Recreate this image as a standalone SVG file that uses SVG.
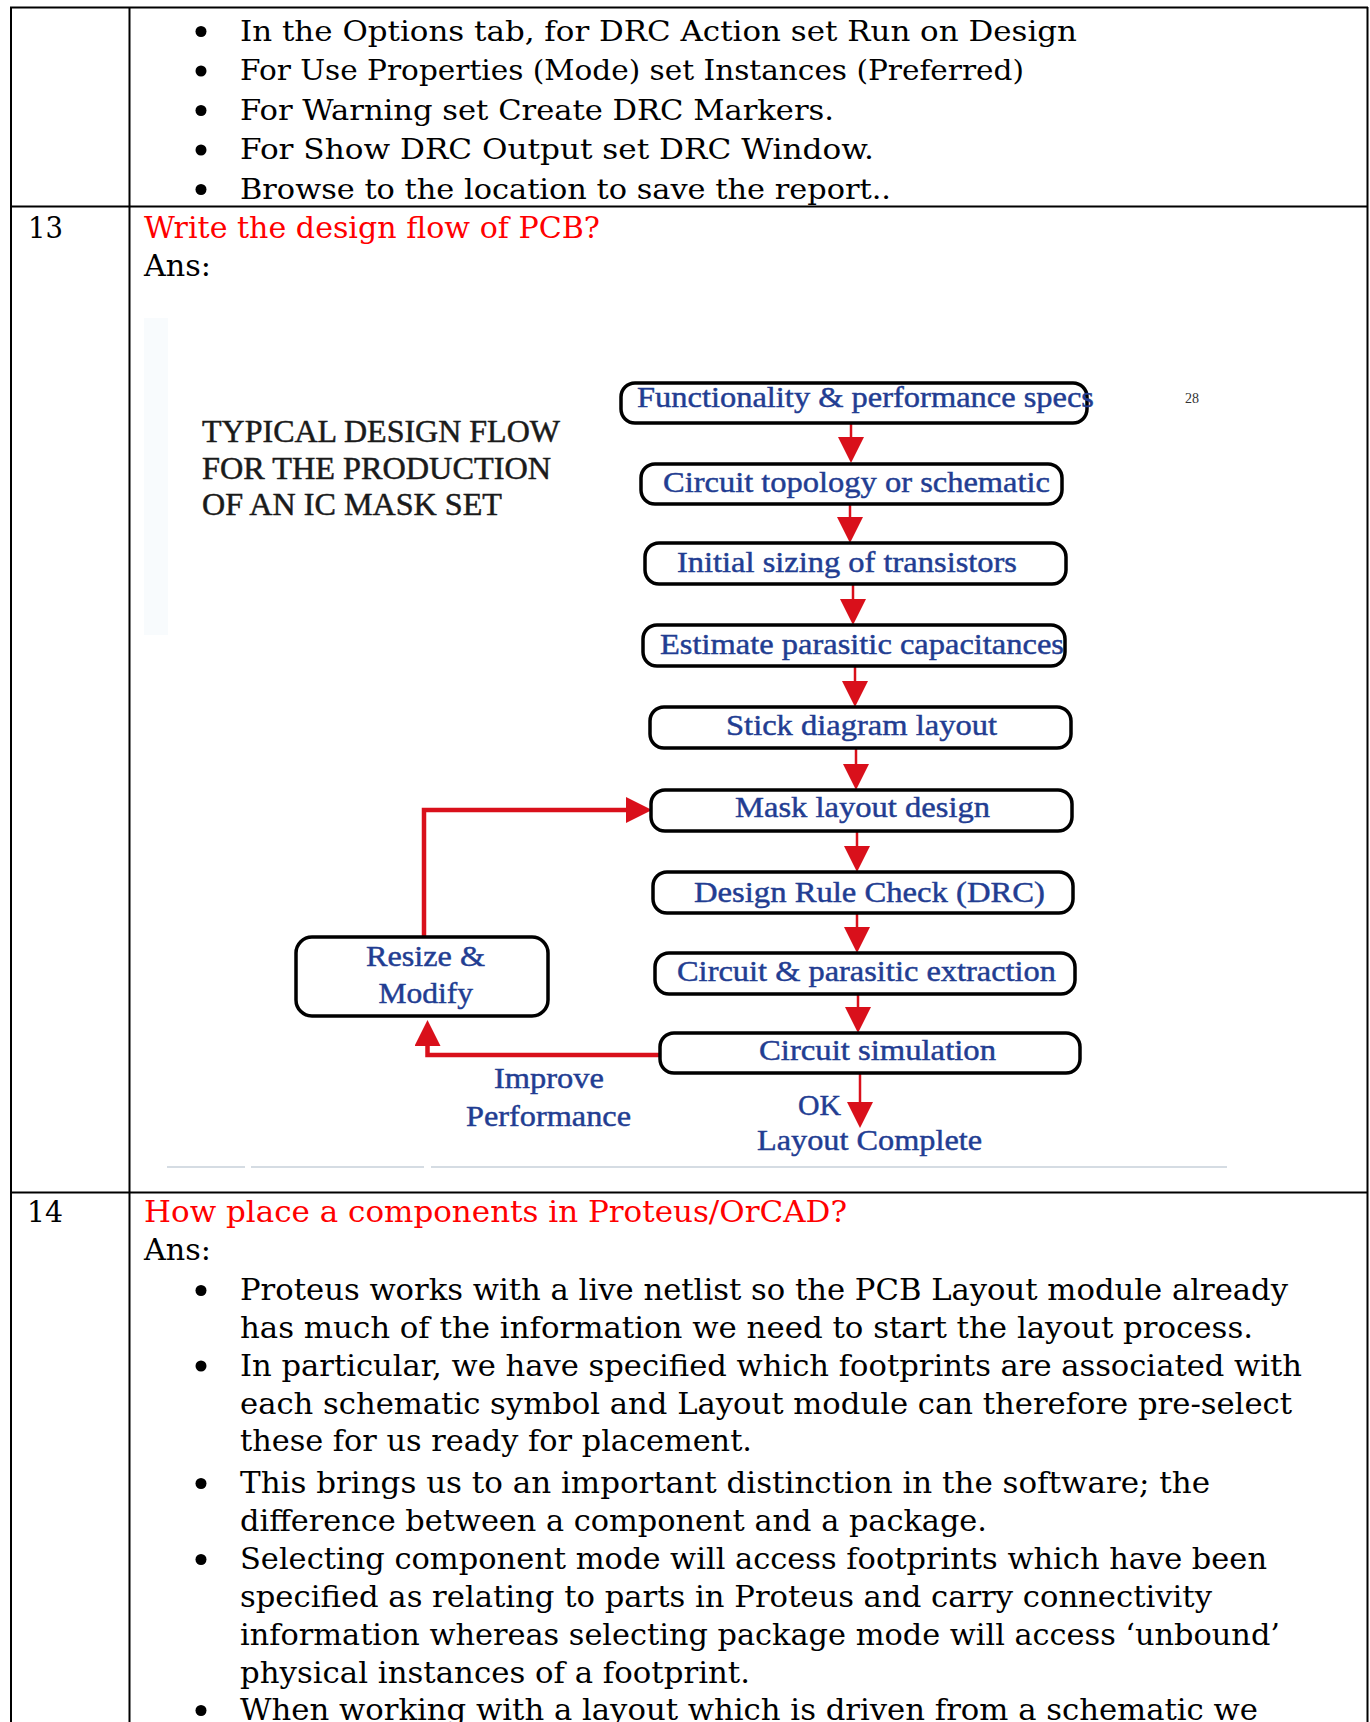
<svg xmlns="http://www.w3.org/2000/svg" width="1370" height="1722" viewBox="0 0 1370 1722">
<style>
.tb{stroke:#000;stroke-width:2;fill:none}
.body{font-family:"DejaVu Serif","Liberation Serif",serif;font-size:29px;fill:#000}
.r12{font-size:28px}
.q{fill:#ff0000}
.fc{font-family:"Liberation Serif","Times New Roman",serif;font-size:30px;fill:#223d92;stroke:#223d92;stroke-width:0.45}
.ttl{font-family:"Liberation Serif","Times New Roman",serif;font-size:32px;fill:#1a1a1a;stroke:#1a1a1a;stroke-width:0.5}
.box{fill:#fff;stroke:#000;stroke-width:3.5}
.flow{stroke:#d9101b;stroke-width:2.5;fill:none}
.fb{stroke:#d9101b;stroke-width:4.5;fill:none}
.faint{stroke:#d5dce3;stroke-width:2;fill:none}
</style>
<defs>
<marker id="ah" viewBox="0 0 26 26" refX="16" refY="13" markerWidth="26" markerHeight="26" markerUnits="userSpaceOnUse" orient="auto"><path d="M0,0 L26,13 L0,26 Z" fill="#d9101b"/></marker>
</defs>
<rect width="1370" height="1722" fill="#fff"/>

<g id="table">
<line class="tb" x1="10" y1="7.5" x2="1368" y2="7.5"/>
<line class="tb" x1="11" y1="7" x2="11" y2="1722"/>
<line class="tb" x1="1367.5" y1="7" x2="1367.5" y2="1722"/>
<line class="tb" x1="129.5" y1="7" x2="129.5" y2="1722"/>
<line class="tb" x1="11" y1="206.5" x2="1368" y2="206.5"/>
<line class="tb" x1="11" y1="1192.5" x2="1368" y2="1192.5"/>
</g>

<g id="row12" class="body r12">
<circle cx="201" cy="31.5" r="5.5"/>
<circle cx="201" cy="71" r="5.5"/>
<circle cx="201" cy="110.5" r="5.5"/>
<circle cx="201" cy="150" r="5.5"/>
<circle cx="201" cy="189.5" r="5.5"/>
<text x="240" y="40.5" textLength="837" lengthAdjust="spacingAndGlyphs">In the Options tab, for DRC Action set Run on Design</text>
<text x="240" y="80" textLength="784" lengthAdjust="spacingAndGlyphs">For Use Properties (Mode) set Instances (Preferred)</text>
<text x="240" y="119.5" textLength="594" lengthAdjust="spacingAndGlyphs">For Warning set Create DRC Markers.</text>
<text x="240" y="159" textLength="634" lengthAdjust="spacingAndGlyphs">For Show DRC Output set DRC Window.</text>
<text x="240" y="198.5" textLength="651" lengthAdjust="spacingAndGlyphs">Browse to the location to save the report..</text>
</g>

<g id="row13" class="body">
<text x="28" y="238" textLength="35" lengthAdjust="spacingAndGlyphs">13</text>
<text class="q" x="144" y="237.5" textLength="456" lengthAdjust="spacingAndGlyphs">Write the design flow of PCB?</text>
<text x="144" y="276" textLength="67" lengthAdjust="spacingAndGlyphs">Ans:</text>
</g>

<g id="figure-bg">
<rect x="144" y="318" width="24" height="317" fill="#f8fbfd"/>
<line class="faint" x1="167" y1="1167" x2="245" y2="1167"/>
<line class="faint" x1="251" y1="1167" x2="424" y2="1167"/>
<line class="faint" x1="431" y1="1167" x2="1227" y2="1167"/>
<text x="1185" y="403" font-family="Liberation Serif, serif" font-size="14" fill="#333">28</text>
</g>

<g id="title">
<text class="ttl" x="202" y="442" textLength="358" lengthAdjust="spacingAndGlyphs">TYPICAL DESIGN FLOW</text>
<text class="ttl" x="202" y="478.5" textLength="349" lengthAdjust="spacingAndGlyphs">FOR THE PRODUCTION</text>
<text class="ttl" x="202" y="515" textLength="300" lengthAdjust="spacingAndGlyphs">OF AN IC MASK SET</text>
</g>

<g id="connectors">
<line class="flow" x1="851" y1="423" x2="851" y2="453" marker-end="url(#ah)"/>
<line class="flow" x1="850" y1="504" x2="850" y2="533" marker-end="url(#ah)"/>
<line class="flow" x1="853" y1="584" x2="853" y2="615" marker-end="url(#ah)"/>
<line class="flow" x1="855" y1="666" x2="855" y2="697" marker-end="url(#ah)"/>
<line class="flow" x1="856" y1="748" x2="856" y2="780" marker-end="url(#ah)"/>
<line class="flow" x1="857" y1="831" x2="857" y2="862" marker-end="url(#ah)"/>
<line class="flow" x1="857" y1="913" x2="857" y2="943" marker-end="url(#ah)"/>
<line class="flow" x1="858" y1="994" x2="858" y2="1023" marker-end="url(#ah)"/>
<line class="flow" x1="860" y1="1073" x2="860" y2="1118" marker-end="url(#ah)"/>
<path class="fb" d="M424,937 V810 H642" marker-end="url(#ah)"/>
<path class="fb" d="M660,1055 H427.5 V1030" marker-end="url(#ah)"/>
</g>

<g id="n1"><rect class="box" x="621" y="383" width="466" height="40" rx="14"/><text class="fc" x="637" y="407" textLength="457" lengthAdjust="spacingAndGlyphs">Functionality &amp; performance specs</text></g>
<g id="n2"><rect class="box" x="641" y="464" width="421" height="40" rx="14"/><text class="fc" x="663" y="492" textLength="387" lengthAdjust="spacingAndGlyphs">Circuit topology or schematic</text></g>
<g id="n3"><rect class="box" x="645" y="543" width="421" height="41" rx="14"/><text class="fc" x="677" y="572" textLength="340" lengthAdjust="spacingAndGlyphs">Initial sizing of transistors</text></g>
<g id="n4"><rect class="box" x="643" y="625" width="422" height="41" rx="14"/><text class="fc" x="660" y="654" textLength="404" lengthAdjust="spacingAndGlyphs">Estimate parasitic capacitances</text></g>
<g id="n5"><rect class="box" x="650" y="707" width="421" height="41" rx="14"/><text class="fc" x="726" y="735" textLength="271" lengthAdjust="spacingAndGlyphs">Stick diagram layout</text></g>
<g id="n6"><rect class="box" x="651" y="790" width="421" height="41" rx="14"/><text class="fc" x="735" y="817" textLength="255" lengthAdjust="spacingAndGlyphs">Mask layout design</text></g>
<g id="n7"><rect class="box" x="653" y="872" width="420" height="41" rx="14"/><text class="fc" x="694" y="902" textLength="351" lengthAdjust="spacingAndGlyphs">Design Rule Check (DRC)</text></g>
<g id="n8"><rect class="box" x="655" y="953" width="420" height="41" rx="14"/><text class="fc" x="677" y="981" textLength="379" lengthAdjust="spacingAndGlyphs">Circuit &amp; parasitic extraction</text></g>
<g id="n9"><rect class="box" x="660" y="1033" width="420" height="40" rx="14"/><text class="fc" x="759" y="1060" textLength="237" lengthAdjust="spacingAndGlyphs">Circuit simulation</text></g>
<g id="n10"><rect class="box" x="296" y="937" width="252" height="79" rx="16"/><text class="fc" x="366" y="966" textLength="119" lengthAdjust="spacingAndGlyphs">Resize &amp;</text><text class="fc" x="378.5" y="1003" textLength="94.5" lengthAdjust="spacingAndGlyphs">Modify</text></g>

<g id="labels">
<text class="fc" x="494" y="1088" textLength="110" lengthAdjust="spacingAndGlyphs">Improve</text>
<text class="fc" x="466" y="1126" textLength="165" lengthAdjust="spacingAndGlyphs">Performance</text>
<text class="fc" x="798" y="1115" textLength="43" lengthAdjust="spacingAndGlyphs">OK</text>
<text class="fc" x="757" y="1150" textLength="225" lengthAdjust="spacingAndGlyphs">Layout Complete</text>
</g>

<g id="row14" class="body">
<text x="27" y="1222" textLength="36" lengthAdjust="spacingAndGlyphs">14</text>
<text class="q" x="144" y="1222" textLength="703" lengthAdjust="spacingAndGlyphs">How place a components in Proteus/OrCAD?</text>
<text x="144" y="1260" textLength="67" lengthAdjust="spacingAndGlyphs">Ans:</text>
<circle cx="201" cy="1290.5" r="5.5"/>
<circle cx="201" cy="1366" r="5.5"/>
<circle cx="201" cy="1483.5" r="5.5"/>
<circle cx="201" cy="1559.5" r="5.5"/>
<circle cx="201" cy="1710.5" r="5.5"/>
<text x="240" y="1300" textLength="1048" lengthAdjust="spacingAndGlyphs">Proteus works with a live netlist so the PCB Layout module already</text>
<text x="240" y="1337.5" textLength="1013" lengthAdjust="spacingAndGlyphs">has much of the information we need to start the layout process.</text>
<text x="240" y="1375.5" textLength="1062" lengthAdjust="spacingAndGlyphs">In particular, we have specified which footprints are associated with</text>
<text x="240" y="1413.5" textLength="1052" lengthAdjust="spacingAndGlyphs">each schematic symbol and Layout module can therefore pre-select</text>
<text x="240" y="1451" textLength="512" lengthAdjust="spacingAndGlyphs">these for us ready for placement.</text>
<text x="240" y="1493" textLength="970" lengthAdjust="spacingAndGlyphs">This brings us to an important distinction in the software; the</text>
<text x="240" y="1531" textLength="747" lengthAdjust="spacingAndGlyphs">difference between a component and a package.</text>
<text x="240" y="1569" textLength="1027" lengthAdjust="spacingAndGlyphs">Selecting component mode will access footprints which have been</text>
<text x="240" y="1607" textLength="972" lengthAdjust="spacingAndGlyphs">specified as relating to parts in Proteus and carry connectivity</text>
<text x="240" y="1645" textLength="1040" lengthAdjust="spacingAndGlyphs">information whereas selecting package mode will access ‘unbound’</text>
<text x="240" y="1683" textLength="510" lengthAdjust="spacingAndGlyphs">physical instances of a footprint.</text>
<text x="240" y="1720" textLength="1018" lengthAdjust="spacingAndGlyphs">When working with a layout which is driven from a schematic we</text>
</g>
</svg>
